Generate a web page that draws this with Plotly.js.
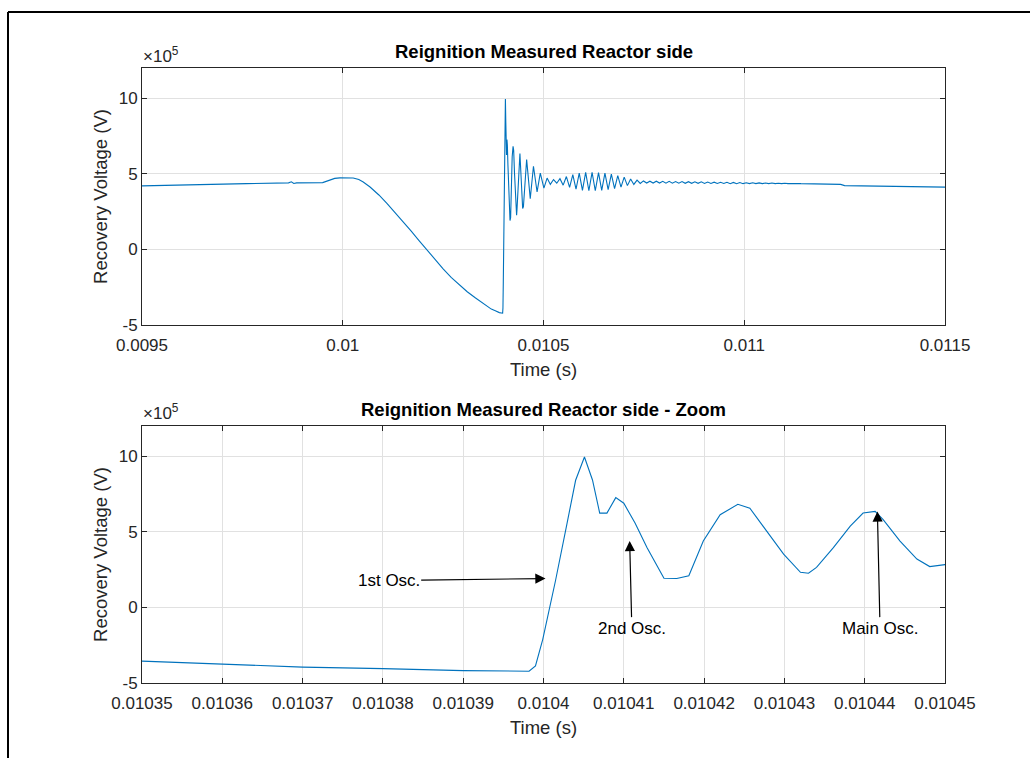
<!DOCTYPE html>
<html>
<head>
<meta charset="utf-8">
<script src="https://cdn.plot.ly/plotly-3.0.1.min.js"></script>
<style>
html, body { margin: 0; padding: 0; background: #ffffff; }
#chart { width: 1030px; height: 758px; }
</style>
</head>
<body>
<div id="chart"></div>
<script>
// Measured recovery voltage (reactor side).
// Time in seconds, voltage in units of 1e5 V.
const time_s = [
  0.009500, 0.009644, 0.009760, 0.009865, 0.009872, 0.009878, 0.009885, 0.009950,
  0.009965, 0.009980, 0.009993, 0.010026, 0.010040, 0.010051, 0.010068, 0.010090,
  0.010110, 0.010130, 0.010150, 0.010170, 0.010190, 0.010210, 0.010230, 0.010250,
  0.010270, 0.010290, 0.010310, 0.010330, 0.010350, 0.010360, 0.010370, 0.010380,
  0.010390, 0.0103982, 0.0103990, 0.0103999, 0.0104015, 0.0104029, 0.0104040, 0.0104051,
  0.0104061, 0.0104070, 0.0104079, 0.0104090, 0.0104100, 0.0104114, 0.0104129, 0.0104150,
  0.0104166, 0.0104181, 0.0104199, 0.0104220, 0.0104242, 0.0104257, 0.0104278, 0.0104299,
  0.0104320, 0.0104330, 0.0104340, 0.0104361, 0.0104382, 0.0104398, 0.0104413, 0.0104423,
  0.0104444, 0.0104465, 0.0104481, 0.0104500, 0.010458, 0.010467, 0.010475, 0.010484,
  0.010492, 0.010501, 0.010509, 0.010517, 0.010525, 0.010533, 0.010541, 0.010549,
  0.010557, 0.010565, 0.010573, 0.010581, 0.010589, 0.010597, 0.010605, 0.010613,
  0.010621, 0.010629, 0.010637, 0.010645, 0.010653, 0.010661, 0.010669, 0.010677,
  0.010685, 0.010693, 0.010701, 0.010709, 0.010717, 0.010725, 0.010733, 0.010741,
  0.010749, 0.010757, 0.010765, 0.010773, 0.010781, 0.010789, 0.010797, 0.010805,
  0.010813, 0.010821, 0.010829, 0.010837, 0.010845, 0.010853, 0.010861, 0.010869,
  0.010877, 0.010885, 0.010893, 0.010901, 0.010909, 0.010917, 0.010925, 0.010933,
  0.010941, 0.010949, 0.010957, 0.010965, 0.010973, 0.010981, 0.010989, 0.010997,
  0.011005, 0.011013, 0.011021, 0.011029, 0.011037, 0.011045, 0.011053, 0.011061,
  0.011069, 0.011077, 0.011085, 0.011093, 0.011101, 0.011109, 0.011117, 0.011125,
  0.011133, 0.011141, 0.011200, 0.011240, 0.011250, 0.011300, 0.011400, 0.011430,
  0.011500
];
const voltage_1e5V = [
  4.20, 4.30, 4.35, 4.40, 4.47, 4.36, 4.40, 4.42,
  4.55, 4.70, 4.73, 4.72, 4.62, 4.46, 4.13, 3.60,
  3.04, 2.45, 1.85, 1.22, 0.58, -0.06, -0.68, -1.28,
  -1.85, -2.35, -2.80, -3.20, -3.55, -3.76, -3.95, -4.05,
  -4.18, -4.22, -3.87, -2.13, 1.78, 5.48, 8.41, 9.95,
  8.43, 6.24, 6.24, 7.26, 6.89, 5.58, 3.95, 1.93,
  1.91, 2.10, 4.39, 6.13, 6.82, 6.56, 5.04, 3.52,
  2.32, 2.26, 2.65, 3.95, 5.37, 6.24, 6.35, 5.80,
  4.39, 3.20, 2.70, 2.83, 5.95, 3.35, 5.50, 3.80,
  5.05, 4.05, 4.72, 4.30, 4.62, 4.38, 4.68, 4.25,
  4.82, 4.10, 4.95, 3.98, 5.05, 3.90, 5.10, 3.88,
  5.10, 3.88, 5.08, 3.90, 5.05, 3.95, 4.98, 4.02,
  4.88, 4.12, 4.78, 4.22, 4.66, 4.30, 4.58, 4.36,
  4.53, 4.39, 4.51, 4.39, 4.51, 4.39, 4.50, 4.38,
  4.50, 4.38, 4.49, 4.38, 4.49, 4.37, 4.48, 4.37,
  4.47, 4.37, 4.47, 4.36, 4.46, 4.36, 4.45, 4.36,
  4.44, 4.36, 4.44, 4.35, 4.43, 4.35, 4.42, 4.35,
  4.41, 4.35, 4.41, 4.35, 4.40, 4.35, 4.39, 4.35,
  4.39, 4.35, 4.38, 4.35, 4.38, 4.35, 4.37, 4.35,
  4.36, 4.35, 4.33, 4.30, 4.22, 4.20, 4.16, 4.13,
  4.12
];

const topTickVals = [0.0095, 0.01, 0.0105, 0.011, 0.0115];
const topTickText = ['0.0095', '0.01', '0.0105', '0.011', '0.0115'];
const zoomTickVals = [0.01035, 0.01036, 0.01037, 0.01038, 0.01039, 0.0104,
                      0.01041, 0.01042, 0.01043, 0.01044, 0.01045];
const zoomTickText = ['0.01035', '0.01036', '0.01037', '0.01038', '0.01039', '0.0104',
                      '0.01041', '0.01042', '0.01043', '0.01044', '0.01045'];
const yTickVals = [-5, 0, 5, 10];
const yTickText = ['-5', '0', '5', '10'];

const oscLabels = ['1st Osc.', '2nd Osc.', 'Main Osc.'];
const oscHeadTime = [0.01040025, 0.01041073, 0.01044158];
const oscHeadVolt = [1.91, 4.39, 6.35];
const oscTextTime = [0.01038072, 0.01041100, 0.01044191];
const oscTextVolt = [1.78, -1.37, -1.37];

const FONT = 'Liberation Sans, Arial, Helvetica, sans-serif';
const INK = '#262626';

function axisBase(extra) {
  return Object.assign({
    showline: true, mirror: 'ticks', linecolor: INK, linewidth: 1,
    ticks: 'inside', ticklen: 5, tickwidth: 1, tickcolor: INK,
    showgrid: true, gridcolor: '#e1e1e1', gridwidth: 1, zeroline: false,
    tickfont: { family: FONT, size: 17, color: INK },
    tickmode: 'array', fixedrange: true, automargin: false
  }, extra);
}

const lineStyle = { color: '#0072BD', width: 1.1 };

const traces = [
  { x: time_s, y: voltage_1e5V, xaxis: 'x', yaxis: 'y', type: 'scatter', mode: 'lines',
    line: lineStyle, hoverinfo: 'skip', showlegend: false },
  { x: time_s, y: voltage_1e5V, xaxis: 'x2', yaxis: 'y2', type: 'scatter', mode: 'lines',
    line: lineStyle, hoverinfo: 'skip', showlegend: false }
];

const annotations = [
  { text: '<b>Reignition Measured Reactor side</b>', xref: 'paper', yref: 'paper',
    x: 0.5277, y: 1 - 52 / 758, xanchor: 'center', yanchor: 'middle', showarrow: false,
    font: { family: FONT, size: 18.5, color: '#000' } },
  { text: '<b>Reignition Measured Reactor side - Zoom</b>', xref: 'paper', yref: 'paper',
    x: 0.5277, y: 1 - 409 / 758, xanchor: 'center', yanchor: 'middle', showarrow: false,
    font: { family: FONT, size: 18.5, color: '#000' } },
  { text: '\u00d710<sup>5</sup>', xref: 'paper', yref: 'paper',
    x: 141 / 1030, y: 1 - 55 / 758, xanchor: 'left', yanchor: 'middle', showarrow: false,
    font: { family: FONT, size: 17, color: INK } },
  { text: '\u00d710<sup>5</sup>', xref: 'paper', yref: 'paper',
    x: 141 / 1030, y: 1 - 412 / 758, xanchor: 'left', yanchor: 'middle', showarrow: false,
    font: { family: FONT, size: 17, color: INK } }
];
for (let i = 0; i < oscLabels.length; i++) {
  annotations.push({
    text: oscLabels[i], xref: 'x2', yref: 'y2', axref: 'x2', ayref: 'y2',
    x: oscHeadTime[i], y: oscHeadVolt[i], ax: oscTextTime[i], ay: oscTextVolt[i],
    showarrow: true, arrowhead: 2, arrowsize: 1.7, arrowwidth: 1.2, arrowcolor: '#000',
    standoff: 0, startstandoff: 0,
    font: { family: FONT, size: 17, color: '#000' }
  });
}

const layout = {
  width: 1030, height: 758,
  margin: { l: 0, r: 0, t: 0, b: 0 },
  paper_bgcolor: '#ffffff', plot_bgcolor: '#ffffff',
  showlegend: false,
  font: { family: FONT, color: INK },
  xaxis: axisBase({ domain: [142 / 1030, 945 / 1030], anchor: 'y', range: [0.0095, 0.0115],
    tickvals: topTickVals, ticktext: topTickText, ticklabelstandoff: 5,
    title: { text: 'Time (s)', font: { family: FONT, size: 18.5, color: INK }, standoff: 8 } }),
  yaxis: axisBase({ domain: [1 - 325 / 758, 1 - 68 / 758], anchor: 'x', range: [-5, 12],
    tickvals: yTickVals, ticktext: yTickText,
    title: { text: 'Recovery Voltage (V)', font: { family: FONT, size: 18.5, color: INK }, standoff: 6 } }),
  xaxis2: axisBase({ domain: [142 / 1030, 945 / 1030], anchor: 'y2', range: [0.01035, 0.01045],
    tickvals: zoomTickVals, ticktext: zoomTickText, ticklabelstandoff: 5,
    title: { text: 'Time (s)', font: { family: FONT, size: 18.5, color: INK }, standoff: 8 } }),
  yaxis2: axisBase({ domain: [1 - 683 / 758, 1 - 426 / 758], anchor: 'x2', range: [-5, 12],
    tickvals: yTickVals, ticktext: yTickText,
    title: { text: 'Recovery Voltage (V)', font: { family: FONT, size: 18.5, color: INK }, standoff: 6 } }),
  annotations: annotations,
  shapes: [
    { type: 'line', xref: 'paper', yref: 'paper', x0: 8 / 1030, x1: 1, y0: 1 - 12 / 758, y1: 1 - 12 / 758,
      line: { color: '#000', width: 2 } },
    { type: 'line', xref: 'paper', yref: 'paper', x0: 8 / 1030, x1: 8 / 1030, y0: 1 - 12 / 758, y1: 0,
      line: { color: '#000', width: 2 } }
  ]
};

Plotly.newPlot('chart', traces, layout, { displayModeBar: false, staticPlot: true });
</script>
</body>
</html>
